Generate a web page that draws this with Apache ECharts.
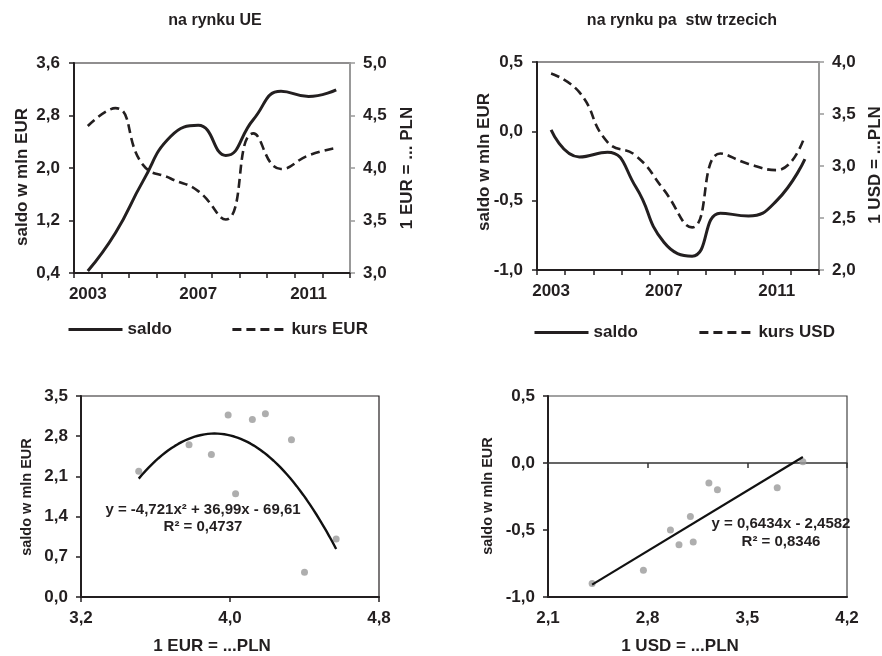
<!DOCTYPE html>
<html><head><meta charset="utf-8">
<script src="https://cdn.jsdelivr.net/npm/echarts@6/dist/echarts.min.js"></script>
<style>html,body{margin:0;padding:0;background:#fff}#c{width:882px;height:656px}</style>
</head><body><div id="c"></div>
<script>
// ---- data ----
const years = ['2003','2004','2005','2006','2007','2008','2009','2010','2011','2012'];
const saldoUE = [0.43, 1.01, 1.80, 2.48, 2.65, 2.19, 2.74, 3.17, 3.09, 3.19];
const kursEUR = [4.40, 4.57, 4.03, 3.90, 3.78, 3.51, 4.33, 3.99, 4.12, 4.19];
const saldoTrzecie = [0.01, -0.185, -0.15, -0.40, -0.80, -0.90, -0.59, -0.61, -0.50, -0.20];
const kursUSD = [3.89, 3.71, 3.23, 3.10, 2.77, 2.41, 3.12, 3.02, 2.96, 3.29];
// trend-line coefficients as printed on the chart
const trendEURCoef = [-4.721, 36.99, -69.61];   // y = a x^2 + b x + c
const trendUSDCoef = [0.6434, -2.4582];         // y = a x + b
const titles = ['na rynku UE', 'na rynku pa\u00a0\u00a0stw trzecich'];
const eqEUR = ['y = -4,721x\u00b2 + 36,99x - 69,61', 'R\u00b2 = 0,4737'];
const eqUSD = ['y = 0,6434x - 2,4582', 'R\u00b2 = 0,8346'];

// ---- derived ----
const scatterEUR = kursEUR.map((x, i) => [x, saldoUE[i]]);
const scatterUSD = kursUSD.map((x, i) => [x, saldoTrzecie[i]]);
function polyLine(coef, xs, n) {
  const lo = Math.min(...xs), hi = Math.max(...xs), out = [];
  for (let i = 0; i <= n; i++) {
    const x = lo + (hi - lo) * i / n;
    let y = 0; coef.forEach(c => { y = y * x + c; });
    out.push([x, y]);
  }
  return out;
}
const trendEUR = polyLine(trendEURCoef, kursEUR, 60);
const trendUSD = polyLine(trendUSDCoef, kursUSD, 1);

const FONT = '"Liberation Sans", Arial, sans-serif';
const INK = '#231f20';
const fmt1 = v => (Math.round(v * 10) / 10).toFixed(1).replace('.', ',');
const lbl = (extra) => Object.assign({color: INK, fontSize: 17, fontWeight: 'bold', fontFamily: FONT, formatter: fmt1}, extra || {});

function vAxis(gi, min, max, interval, o) {
  o = o || {};
  return Object.assign({
    type: 'value', gridIndex: gi, min: min, max: max, interval: interval,
    axisLine: {show: true, onZero: false, lineStyle: {color: o.lineColor || INK, width: o.lineWidth || 2}},
    axisTick: {show: o.tick !== false, length: 5, inside: !!o.inside, lineStyle: {color: o.lineColor || INK, width: 1.5}},
    splitLine: {show: false},
    axisLabel: lbl({margin: o.margin || 13, show: o.label !== false})
  }, o.extra || {});
}
function cAxis(gi) {
  return {
    type: 'category', gridIndex: gi, data: years, boundaryGap: true,
    axisLine: {show: true, onZero: false, lineStyle: {color: INK, width: 2}},
    axisTick: {show: true, interval: 0, length: 5, lineStyle: {color: INK, width: 1.5}},
    axisLabel: {interval: 3, margin: 13, color: INK, fontSize: 17, fontWeight: 'bold', fontFamily: FONT}
  };
}
function txt(text, x, y, size, rot) {
  return {
    type: 'text', x: x, y: y, rotation: rot || 0, silent: true,
    style: {text: text, fill: INK, font: 'bold ' + size + 'px ' + FONT,
      align: 'center', verticalAlign: 'middle', textAlign: 'center', textVerticalAlign: 'middle'}
  };
}
const R = Math.PI / 2;
const legendBase = {
  itemWidth: 54, itemHeight: 14, padding: 0, selectedMode: false,
  itemStyle: {color: 'rgba(0,0,0,0)', borderColor: 'rgba(0,0,0,0)', borderWidth: 0},
  lineStyle: {width: 3},
  textStyle: {color: INK, fontSize: 17, fontWeight: 'bold', fontFamily: FONT}
};

const option = {
  backgroundColor: '#ffffff',
  animation: false,
  grid: [
    {left: 74, top: 63, width: 276, height: 210, show: true, borderColor: INK, borderWidth: 1.2, backgroundColor: 'transparent'},
    {left: 537, top: 62, width: 282, height: 208, show: true, borderColor: INK, borderWidth: 1.2, backgroundColor: 'transparent'},
    {left: 81, top: 396, width: 298, height: 201, show: true, borderColor: INK, borderWidth: 1.2, backgroundColor: 'transparent'},
    {left: 548, top: 396, width: 299, height: 201, show: true, borderColor: '#444', borderWidth: 1.2, backgroundColor: 'transparent'}
  ],
  xAxis: [
    cAxis(0),
    cAxis(1),
    vAxis(2, 3.2, 4.8, 0.8, {margin: 13}),
    vAxis(3, 2.1, 4.2, 0.7, {margin: 13, tick: false}),
    Object.assign(vAxis(3, 2.1, 4.2, 0.7, {label: false, inside: true, lineWidth: 1.5, lineColor: '#333'}),
      {position: 'top', axisLine: {show: true, onZero: true, lineStyle: {color: '#333', width: 1.5}}})
  ],
  yAxis: [
    vAxis(0, 0.4, 3.6, 0.8, {margin: 14}),
    Object.assign(vAxis(0, 3.0, 5.0, 0.5, {lineColor: '#999', margin: 13}), {position: 'right'}),
    vAxis(1, -1.0, 0.5, 0.5, {margin: 14}),
    Object.assign(vAxis(1, 2.0, 4.0, 0.5, {lineColor: '#999', margin: 13}), {position: 'right'}),
    vAxis(2, 0.0, 3.5, 0.7, {margin: 13}),
    vAxis(3, -1.0, 0.5, 0.5, {margin: 13})
  ],
  legend: [
    Object.assign({left: 67, top: 321, itemGap: 59, data: ['saldo', 'kurs EUR']}, legendBase),
    Object.assign({left: 533, top: 324, itemGap: 60, data: ['saldo', 'kurs USD']}, legendBase)
  ],
  series: [
    {name: 'saldo', type: 'line', xAxisIndex: 0, yAxisIndex: 0, data: saldoUE, smooth: 0.5, symbol: 'none',
     lineStyle: {color: INK, width: 3}, itemStyle: {color: INK}},
    {name: 'kurs EUR', type: 'line', xAxisIndex: 0, yAxisIndex: 1, data: kursEUR, smooth: 0.5, symbol: 'none',
     lineStyle: {color: INK, width: 2.6, type: [9, 5]}, itemStyle: {color: INK}},
    {name: 'saldo', type: 'line', xAxisIndex: 1, yAxisIndex: 2, data: saldoTrzecie, smooth: 0.5, symbol: 'none',
     lineStyle: {color: INK, width: 3}, itemStyle: {color: INK}},
    {name: 'kurs USD', type: 'line', xAxisIndex: 1, yAxisIndex: 3, data: kursUSD, smooth: 0.5, symbol: 'none',
     lineStyle: {color: INK, width: 2.6, type: [9, 5]}, itemStyle: {color: INK}},
    {name: 'pktEUR', type: 'scatter', xAxisIndex: 2, yAxisIndex: 4, data: scatterEUR, symbolSize: 7,
     itemStyle: {color: '#9a9a9a'}},
    {name: 'trendEUR', type: 'line', xAxisIndex: 2, yAxisIndex: 4, data: trendEUR, symbol: 'none',
     lineStyle: {color: '#111', width: 2.4}, z: 3},
    {name: 'pktUSD', type: 'scatter', xAxisIndex: 3, yAxisIndex: 5, data: scatterUSD, symbolSize: 7,
     itemStyle: {color: '#9a9a9a'}},
    {name: 'trendUSD', type: 'line', xAxisIndex: 3, yAxisIndex: 5, data: trendUSD, symbol: 'none',
     lineStyle: {color: '#111', width: 2.2}, z: 3}
  ],
  graphic: [
    txt(titles[0], 215, 21, 16),
    txt(titles[1], 682, 21, 16),
    txt('saldo w mln EUR', 22, 177, 17, R),
    txt('1 EUR = ... PLN', 407, 168, 17, R),
    txt('saldo w mln EUR', 484, 162, 17, R),
    txt('1 USD = ...PLN', 875, 165, 17, R),
    txt('saldo w mln EUR', 27, 497, 14.5, R),
    txt('1 EUR = ...PLN', 212, 646, 17),
    txt('saldo w mln EUR', 488, 496, 14.5, R),
    txt('1 USD = ...PLN', 680, 646, 17),
    txt(eqEUR[0], 203, 510, 15),
    txt(eqEUR[1], 203, 527, 15),
    txt(eqUSD[0], 781, 524, 15),
    txt(eqUSD[1], 781, 542, 15)
  ]
};
const chart = echarts.init(document.getElementById('c'));
chart.setOption(option);
</script>
</body></html>
